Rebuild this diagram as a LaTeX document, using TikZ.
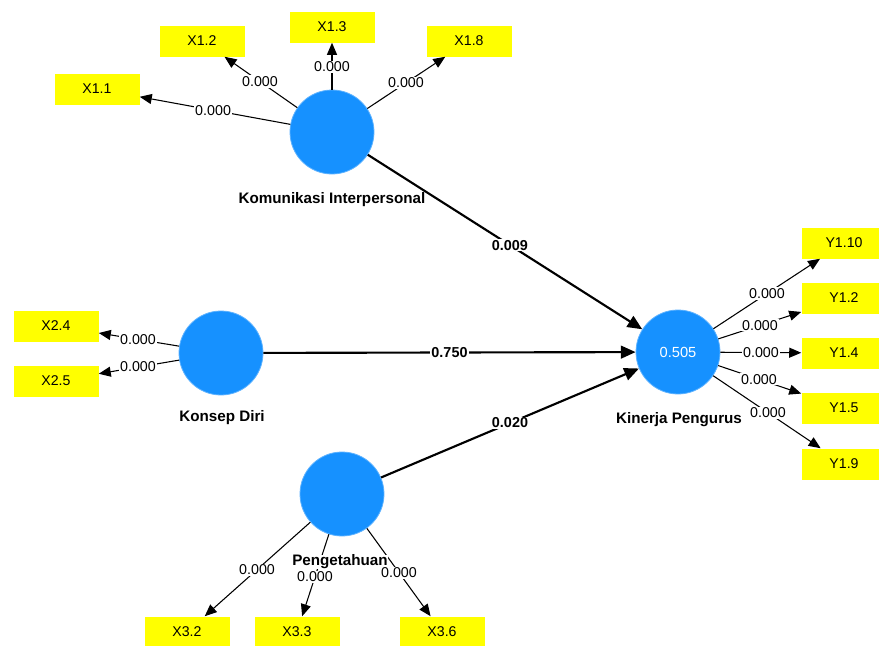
\documentclass[tikz,border=0pt]{standalone}
\usepackage{fontspec}
\setmainfont{Liberation Sans}
\usetikzlibrary{arrows.meta,calc}
\definecolor{lvblue}{RGB}{22,145,255}
\definecolor{mvyellow}{RGB}{255,255,0}
\begin{document}
\begin{tikzpicture}[x=0.75pt,y=-0.75pt,
  latent/.style={circle,fill=lvblue,draw=lvblue!70,line width=0.6pt,minimum size=63pt,inner sep=0pt},
  ind/.style={rectangle,fill=mvyellow,minimum width=63.75pt,minimum height=23.25pt,inner sep=0pt,font=\fontsize{10.6}{12}\selectfont},
  lvname/.style={font=\fontsize{11.4}{13}\selectfont\bfseries,inner sep=1pt},
  outer/.style={draw=black,line width=0.8pt,-{Triangle[length=9pt,width=7.5pt]}},
  inner/.style={draw=black,line width=1.6pt,-{Triangle[length=11pt,width=9.5pt]}},
  elabel/.style={fill=white,inner sep=0.8pt,font=\fontsize{10.7}{12}\selectfont},
  plabel/.style={fill=white,inner sep=0.8pt,font=\fontsize{10.8}{12}\selectfont\bfseries}]
\useasboundingbox (0,0) rectangle (879,646);
\fill[white] (0,0) rectangle (879,646);
% latent variables
\node[latent] (KI) at (332,132) {};
\node[latent] (KD) at (221,353) {};
\node[latent] (P) at (342,494) {};
\node[latent,text=white,font=\fontsize{11}{13}\selectfont] (KP) at (678,352) {0.505};
% indicators
\node[ind] (X11) at (97,89) {X1.1};
\node[ind] (X12) at (202,41) {X1.2};
\node[ind] (X13) at (332,27) {X1.3};
\node[ind] (X18) at (469,41) {X1.8};
\node[ind] (X24) at (56,326) {X2.4};
\node[ind] (X25) at (56,381) {X2.5};
\node[ind] (Y110) at (844,243) {Y1.10};
\node[ind] (Y12) at (844,298) {Y1.2};
\node[ind] (Y14) at (844,353) {Y1.4};
\node[ind] (Y15) at (844,408) {Y1.5};
\node[ind] (Y19) at (844,464) {Y1.9};
\node[ind] (X32) at (187,632) {X3.2};
\node[ind] (X33) at (297,632) {X3.3};
\node[ind] (X36) at (442,632) {X3.6};
% latent names (under lines)
\node[lvname] (nKI) at (332,200) {Komunikasi Interpersonal};
\node[lvname] (nKD) at (222,418) {Konsep Diri};
\node[lvname] (nKP) at (679,420) {Kinerja Pengurus};
% outer edges
\draw[outer] (KI) -- (X11);
\draw[outer] (KI) -- (X12);
\draw[outer] (KI) -- (X13);
\draw[outer] (KI) -- (X18);
\draw[outer] (KD) -- (X24);
\draw[outer] (KD) -- (X25);
\draw[outer] (KP) -- (Y110);
\draw[outer] (KP) -- (Y12);
\draw[outer] (KP) -- (Y14);
\draw[outer] (KP) -- (Y15);
\draw[outer] (KP) -- (Y19);
\draw[outer] (P) -- (X32);
\draw[outer] (P) -- (X33);
\draw[outer] (P) -- (X36);
% inner edges
\draw[inner] (KI) -- (KP);
\draw[inner] (KD) -- (KP);
\draw[inner] (P) -- (KP);
% Pengetahuan name (covers lines)
\node[lvname,fill=white,inner sep=0pt] (nP) at (340,562) {Pengetahuan};
% edge labels
\node[elabel] at ($(KI)!0.506!(X11)$) {0.000};
\node[elabel] at ($(KI)!0.554!(X12)$) {0.000};
\node[elabel] at ($(KI)!0.62!(X13)$) {0.000};
\node[elabel] at ($(KI)!0.54!(X18)$) {0.000};
\node[elabel] at ($(KD)!0.503!(X24)$) {0.000};
\node[elabel] at ($(KD)!0.503!(X25)$) {0.000};
\node[elabel] at ($(KP)!0.536!(Y110)$) {0.000};
\node[elabel] at ($(KP)!0.494!(Y12)$) {0.000};
\node[elabel] at ($(KP)!0.5!(Y14)$) {0.000};
\node[elabel] at ($(KP)!0.488!(Y15)$) {0.000};
\node[elabel] at ($(KP)!0.542!(Y19)$) {0.000};
\node[elabel] at ($(P)!0.548!(X32)$) {0.000};
\node[elabel] at ($(P)!0.6!(X33)$) {0.000};
\node[elabel] at ($(P)!0.57!(X36)$) {0.000};
\node[plabel] at ($(KI)!0.514!(KP)$) {0.009};
\node[plabel] at ($(KD)!0.5!(KP)$) {0.750};
\node[plabel] at ($(P)!0.5!(KP)$) {0.020};
\end{tikzpicture}
\end{document}
